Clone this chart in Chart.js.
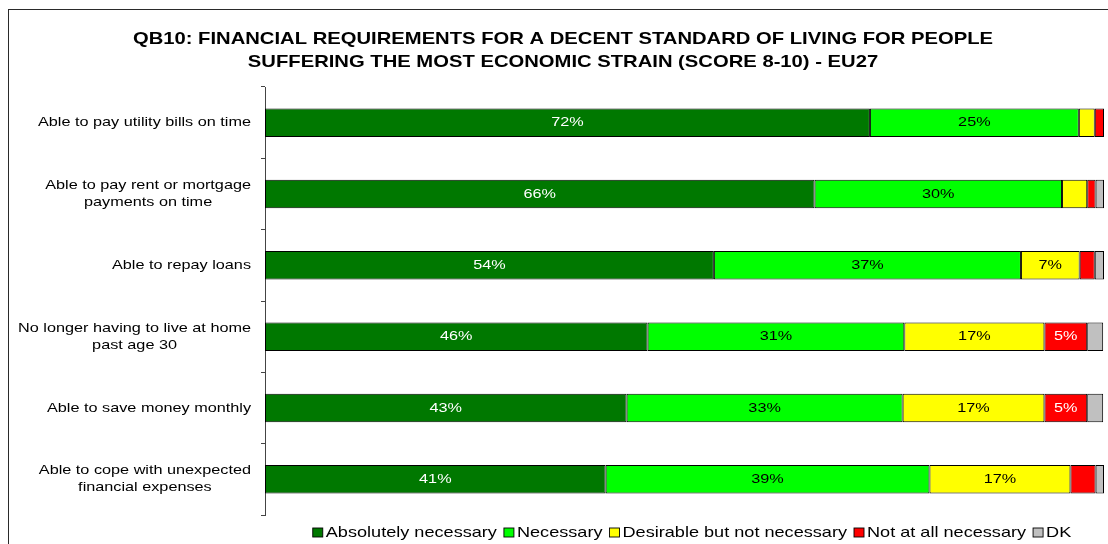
<!DOCTYPE html>
<html>
<head>
<meta charset="utf-8">
<script src="https://cdn.jsdelivr.net/npm/chart.js@4/dist/chart.umd.min.js"></script>
<style>
  html, body { margin: 0; padding: 0; background: #fff; }
  #wrap { width: 1108px; height: 544px; position: relative; }
</style>
</head>
<body>
<div id="wrap"><canvas id="c" width="1108" height="544"></canvas></div>
<script>
const categories = [
  ["Able to pay utility bills on time"],
  ["Able to pay rent or mortgage", "payments on time"],
  ["Able to repay loans"],
  ["No longer having to live at home", "past age 30"],
  ["Able to save money monthly"],
  ["Able to cope with unexpected", "financial expenses"]
];
const seriesNames = ["Absolutely necessary", "Necessary", "Desirable but not necessary", "Not at all necessary", "DK"];
const absolutelyNecessary = [72.1, 65.5, 53.5, 45.6, 43.1, 40.6];
const necessary          = [24.9, 29.5, 36.6, 30.6, 32.9, 38.6];
const desirable          = [1.9, 3.0, 7.0, 16.7, 16.9, 16.8];
const notAtAll           = [1.1, 1.0, 1.8, 5.1, 5.1, 3.0];
const dk                 = [0.0, 1.0, 1.1, 1.9, 1.9, 1.0];
const titleLines = [
  "QB10: FINANCIAL REQUIREMENTS FOR A DECENT STANDARD OF LIVING FOR PEOPLE",
  "SUFFERING THE MOST ECONOMIC STRAIN (SCORE 8-10) - EU27"
];

const colors = ["#007800", "#00FF00", "#FFFF00", "#FF0000", "#C0C0C0"];
const labelColors = ["#FFFFFF", "#000000", "#000000", "#FFFFFF", "#000000"];
const seriesData = [absolutelyNecessary, necessary, desirable, notAtAll, dk];
const FONT = "'Liberation Sans', Arial, sans-serif";
const SX = 1.2492; // horizontal stretch of the original text

function stretchedText(ctx, text, x, y, align) {
  ctx.save();
  ctx.translate(x, y);
  ctx.scale(SX, 1);
  ctx.textAlign = align;
  ctx.textBaseline = 'middle';
  ctx.fillText(text, 0, 0);
  ctx.restore();
}

const frame = {
  id: 'frame',
  beforeDraw(chart) {
    const ctx = chart.ctx;
    ctx.save();
    ctx.fillStyle = '#fff';
    ctx.fillRect(0, 0, chart.width, chart.height);
    ctx.strokeStyle = '#2a2a2a';
    ctx.lineWidth = 1;
    ctx.strokeRect(8.5, 9.5, 1300, 700);
    ctx.restore();
  }
};

const texts = {
  id: 'texts',
  afterDraw(chart) {
    const ctx = chart.ctx;
    const y = chart.scales.y;
    ctx.save();
    ctx.fillStyle = '#000';
    // title
    ctx.font = "bold 16.2px " + FONT;
    titleLines.forEach((t, k) => stretchedText(ctx, t, 563, 40 + k * 23, 'center'));
    // category labels (block right-aligned, lines centred within the block)
    ctx.font = "13px " + FONT;
    const right = 251;
    const lh = 17;
    categories.forEach((lines, i) => {
      const cy = y.getPixelForValue(i);
      const w = Math.max(...lines.map(l => ctx.measureText(l).width)) * SX;
      const cx = right - w / 2;
      const y0 = cy - (lines.length - 1) * lh / 2;
      lines.forEach((l, k) => stretchedText(ctx, l, cx, y0 + k * lh, 'center'));
    });
    // legend
    ctx.font = "14.5px " + FONT;
    const box = 10, gapBT = 3, gapItem = 7;
    const widths = seriesNames.map(n => box + gapBT + ctx.measureText(n).width * SX);
    const total = widths.reduce((a, b) => a + b, 0) + gapItem * (seriesNames.length - 1);
    let x = 692 - total / 2;
    const ly = 532.5;
    seriesNames.forEach((n, i) => {
      ctx.fillStyle = colors[i];
      ctx.fillRect(x, ly - 4.5, box, 9);
      ctx.strokeStyle = '#000';
      ctx.lineWidth = 0.9;
      ctx.strokeRect(x, ly - 4.5, box, 9);
      ctx.fillStyle = '#000';
      stretchedText(ctx, n, x + box + gapBT, ly + 0.5, 'left');
      x += widths[i] + gapItem;
    });
    ctx.restore();
  }
};

const valueLabels = {
  id: 'valueLabels',
  afterDatasetsDraw(chart) {
    const ctx = chart.ctx;
    ctx.save();
    ctx.font = "13px " + FONT;
    chart.data.datasets.forEach((ds, di) => {
      const meta = chart.getDatasetMeta(di);
      meta.data.forEach((bar, i) => {
        const v = Math.round(ds.data[i]);
        if (v < 5) return;
        const cx = (bar.x + bar.base) / 2;
        ctx.fillStyle = labelColors[di];
        stretchedText(ctx, v + "%", cx, bar.y, 'center');
      });
    });
    ctx.restore();
  }
};

new Chart(document.getElementById('c'), {
  type: 'bar',
  data: {
    labels: categories.map(c => c.join(' ')),
    datasets: seriesNames.map((name, i) => ({
      label: name,
      data: seriesData[i],
      backgroundColor: colors[i],
      borderColor: '#000',
      borderWidth: 1,
      borderSkipped: false,
      barPercentage: 0.4,
      categoryPercentage: 1.0
    }))
  },
  options: {
    indexAxis: 'y',
    responsive: false,
    animation: false,
    layout: { padding: { left: 0, right: 4, top: 87, bottom: 29 } },
    scales: {
      x: { stacked: true, min: 0, max: 100, display: false },
      y: {
        stacked: true,
        offset: true,
        grid: { offset: true, drawOnChartArea: false, drawTicks: true, tickLength: 4, color: '#444' },
        border: { display: true, color: '#444', width: 1 },
        ticks: { callback: () => '', padding: 0 },
        afterFit(scale) { scale.width = 265; }
      }
    },
    plugins: {
      title: { display: false },
      legend: { display: false },
      tooltip: { enabled: false }
    }
  },
  plugins: [frame, texts, valueLabels]
});
</script>
</body>
</html>
